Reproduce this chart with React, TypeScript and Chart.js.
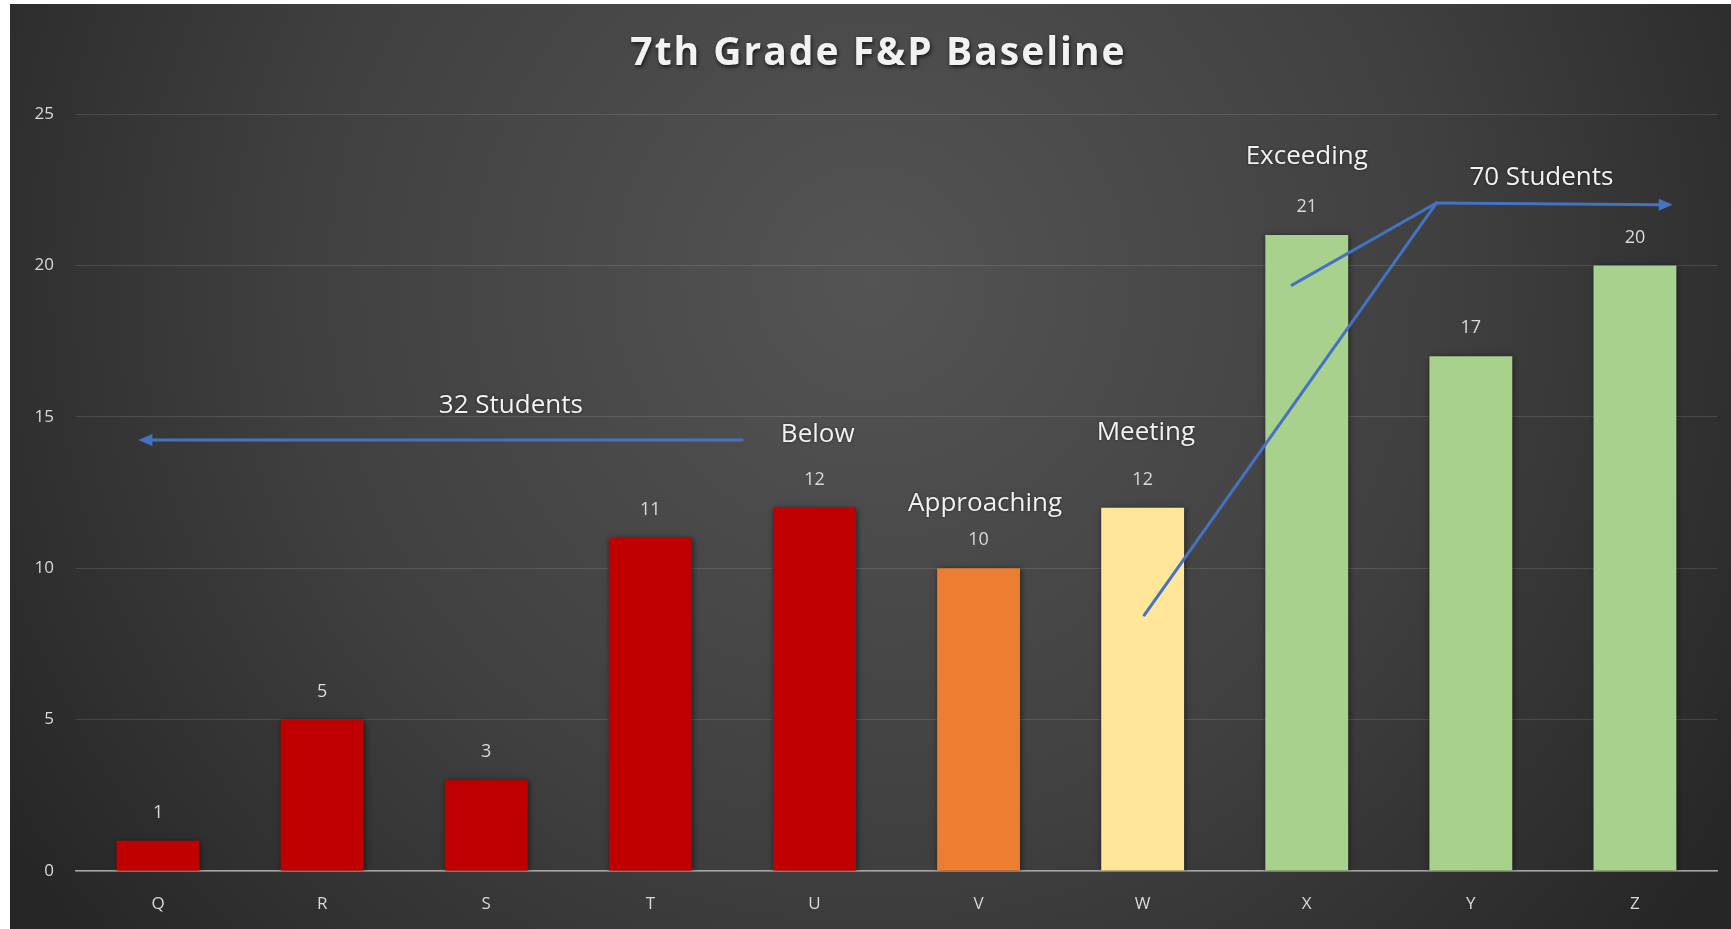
import React, { useEffect, useRef } from "react";
import { Chart, registerables } from "chart.js";

Chart.register(...registerables);

const chartTitle = "7th Grade F&P Baseline";
const categories = ["Q", "R", "S", "T", "U", "V", "W", "X", "Y", "Z"];
const students = [1, 5, 3, 11, 12, 10, 12, 21, 17, 20];
const barColors = [
  "#C00000", "#C00000", "#C00000", "#C00000", "#C00000",
  "#ED7D31", "#FFE699", "#A9D18E", "#A9D18E", "#A9D18E",
];
const yMax = 25;
const yStep = 5;

// annotation texts placed in data coordinates (category index, value)
const noteTexts = ["32 Students", "Below", "Approaching", "Meeting", "Exceeding", "70 Students"];
const noteX = [2.15, 4.02, 5.04, 6.02, 7.0, 8.43];
const noteY = [15.36, 14.4, 12.15, 14.47, 23.6, 22.9];

// arrow / line segments in data coordinates
const segFromX = [3.56, 6.01, 6.91, 7.79];
const segFromY = [14.23, 8.45, 19.35, 22.06];
const segToX = [-0.12, 7.79, 7.79, 9.23];
const segToY = [14.23, 22.06, 22.06, 22.0];
const segArrow = [true, false, false, true];

const bgPlugin = {
  id: "bg",
  beforeDraw(chart: any) {
    const { ctx, width, height } = chart;
    ctx.save();
    const g = ctx.createRadialGradient(width * 0.5, height * 0.3, 0, width * 0.5, height * 0.3, width * 0.6);
    g.addColorStop(0, "#545454");
    g.addColorStop(0.55, "#404040");
    g.addColorStop(1, "#262626");
    ctx.fillStyle = g;
    ctx.fillRect(0, 0, width, height);
    // title
    ctx.font = "bold 39px 'Open Sans'";
    try { (ctx as any).letterSpacing = "2px"; } catch (e) {}
    ctx.fillStyle = "#F2F2F2";
    ctx.textAlign = "center";
    ctx.textBaseline = "middle";
    ctx.shadowColor = "rgba(0,0,0,0.7)";
    ctx.shadowBlur = 4;
    ctx.shadowOffsetX = 1;
    ctx.shadowOffsetY = 2;
    ctx.fillText(chartTitle, width / 2 + 8, 50);
    ctx.restore();
  },
};

const barShadow = {
  id: "barShadow",
  beforeDatasetsDraw(chart: any) {
    const ctx = chart.ctx;
    ctx.save();
    ctx.shadowColor = "rgba(0,0,0,0.55)";
    ctx.shadowBlur = 6;
    ctx.shadowOffsetX = 1;
    ctx.shadowOffsetY = 1;
  },
  afterDatasetsDraw(chart: any) {
    chart.ctx.restore();
  },
};

const overlayPlugin = {
  id: "overlay",
  afterDatasetsDraw(chart: any) {
    const { ctx } = chart;
    const xs = chart.scales.x;
    const ys = chart.scales.y;
    ctx.save();
    // value labels
    const meta = chart.getDatasetMeta(0);
    ctx.font = "18px 'Open Sans'";
    ctx.fillStyle = "#D9D9D9";
    ctx.textAlign = "center";
    ctx.textBaseline = "middle";
    meta.data.forEach((bar: any, i: number) => {
      ctx.fillText(String(students[i]), bar.x, bar.y - 28);
    });
    // arrows
    ctx.strokeStyle = "#4472C4";
    ctx.fillStyle = "#4472C4";
    ctx.lineWidth = 3;
    ctx.lineCap = "round";
    for (let i = 0; i < segFromX.length; i++) {
      const x1 = xs.getPixelForValue(segFromX[i]);
      const y1 = ys.getPixelForValue(segFromY[i]);
      const x2 = xs.getPixelForValue(segToX[i]);
      const y2 = ys.getPixelForValue(segToY[i]);
      const ang = Math.atan2(y2 - y1, x2 - x1);
      const head = segArrow[i] ? 14 : 0;
      ctx.beginPath();
      ctx.moveTo(x1, y1);
      ctx.lineTo(x2 - Math.cos(ang) * head * 0.8, y2 - Math.sin(ang) * head * 0.8);
      ctx.stroke();
      if (segArrow[i]) {
        ctx.beginPath();
        ctx.moveTo(x2, y2);
        ctx.lineTo(x2 - Math.cos(ang) * head + Math.sin(ang) * 6, y2 - Math.sin(ang) * head - Math.cos(ang) * 6);
        ctx.lineTo(x2 - Math.cos(ang) * head - Math.sin(ang) * 6, y2 - Math.sin(ang) * head + Math.cos(ang) * 6);
        ctx.closePath();
        ctx.fill();
      }
    }
    // annotation texts
    ctx.font = "26px 'Open Sans'";
    ctx.fillStyle = "#F2F2F2";
    ctx.shadowColor = "rgba(0,0,0,0.5)";
    ctx.shadowBlur = 3;
    for (let i = 0; i < noteTexts.length; i++) {
      ctx.fillText(noteTexts[i], xs.getPixelForValue(noteX[i]), ys.getPixelForValue(noteY[i]));
    }
    ctx.restore();
  },
};

export default function App() {
  const ref = useRef<HTMLCanvasElement | null>(null);
  useEffect(() => {
    document.body.style.margin = "0";
    document.body.style.background = "#ffffff";
    if (!ref.current) return;
    const chart = new Chart(ref.current, {
      type: "bar",
      data: {
        labels: categories,
        datasets: [
          {
            data: students,
            backgroundColor: barColors,
            borderWidth: 0,
            barPercentage: 0.505,
            categoryPercentage: 1,
          },
        ],
      },
      options: {
        animation: false,
        responsive: false,
        maintainAspectRatio: false,
        layout: { padding: { top: 110, right: 14, left: 0, bottom: 0 } },
        plugins: {
          legend: { display: false },
          title: { display: false },
          tooltip: { enabled: false },
        },
        scales: {
          x: {
            grid: { display: false, drawTicks: false },
            border: { display: true, color: "#A6A6A6", width: 1.5 },
            ticks: { color: "#D9D9D9", font: { family: "'Open Sans'", size: 17 }, padding: 23 },
            afterFit(scale: any) {
              scale.height = 58;
            },
          },
          y: {
            min: 0,
            max: yMax,
            ticks: {
              stepSize: yStep,
              color: "#D9D9D9",
              font: { family: "'Open Sans'", size: 17 },
              padding: 22,
            },
            grid: { color: "rgba(255,255,255,0.12)", drawTicks: false, lineWidth: 1 },
            border: { display: false },
            afterFit(scale: any) {
              scale.width = 66;
            },
          },
        },
      },
      plugins: [bgPlugin, barShadow, overlayPlugin],
    } as any);
    return () => chart.destroy();
  }, []);
  return (
    <div style={{ marginLeft: 10, marginTop: 4, width: 1721, height: 925 }}>
      <canvas ref={ref} width={1721} height={925} style={{ display: "block" }} />
    </div>
  );
}
